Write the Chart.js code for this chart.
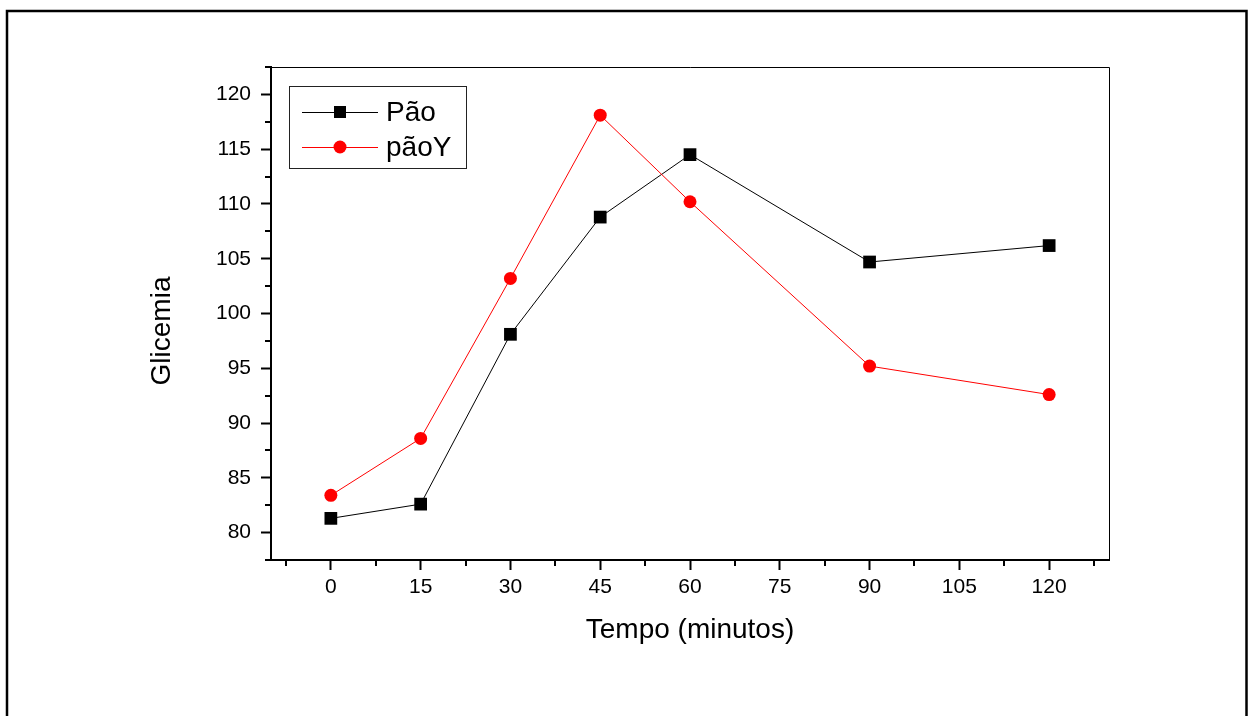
<!DOCTYPE html>
<html><head><meta charset="utf-8">
<script src="https://cdn.jsdelivr.net/npm/chart.js@4.4.1/dist/chart.umd.min.js"></script>
<style>html,body{margin:0;padding:0;background:#fff;overflow:hidden}</style>
</head><body>
<canvas id="c" width="1248" height="716"></canvas>
<script>
const tempo = [0, 15, 30, 45, 60, 90, 120];
const pao = [81.3, 82.6, 98.1, 108.8, 114.5, 104.7, 106.2];
const paoY = [83.4, 88.6, 103.2, 118.1, 110.2, 95.2, 92.6];
const seriesNames = ['Pão', 'pãoY'];
const xTickValues = [0, 15, 30, 45, 60, 75, 90, 105, 120];
const yTickValues = [80, 85, 90, 95, 100, 105, 110, 115, 120];
const xMinorTicks = [-7.5, 7.5, 22.5, 37.5, 52.5, 67.5, 82.5, 97.5, 112.5, 127.5];
const yMinorTicks = [77.5, 82.5, 87.5, 92.5, 97.5, 102.5, 107.5, 112.5, 117.5, 122.5];
const xTitle = 'Tempo (minutos)';
const yTitle = 'Glicemia';

const FONT = "'Liberation Sans', Arial, sans-serif";

const framePlugin = {
  id: 'frame',
  afterDraw(chart) {
    const ctx = chart.ctx;
    const a = chart.chartArea;
    const xs = chart.scales.x, ys = chart.scales.y;
    ctx.save();
    // top and right frame lines
    ctx.strokeStyle = '#000';
    ctx.lineWidth = 1;
    ctx.beginPath();
    ctx.moveTo(a.left, a.top + 0.5);
    ctx.lineTo(a.right + 0.5, a.top + 0.5);
    ctx.lineTo(a.right + 0.5, a.bottom);
    ctx.stroke();
    // minor ticks
    ctx.lineWidth = 2;
    ctx.beginPath();
    xMinorTicks.forEach(v => {
      const px = Math.round(xs.getPixelForValue(v));
      ctx.moveTo(px, a.bottom);
      ctx.lineTo(px, a.bottom + 6);
    });
    yMinorTicks.forEach(v => {
      const py = Math.round(ys.getPixelForValue(v));
      ctx.moveTo(a.left, py);
      ctx.lineTo(a.left - 6, py);
    });
    ctx.stroke();
    // y axis title
    ctx.save();
    ctx.translate(162, 331);
    ctx.rotate(-Math.PI / 2);
    ctx.fillStyle = '#000';
    ctx.font = '28px ' + FONT;
    ctx.textAlign = 'center';
    ctx.textBaseline = 'middle';
    ctx.fillText(yTitle, 0, 0);
    ctx.restore();
    // legend box
    const lx = 289, ly = 86, lw = 177, lh = 82;
    ctx.lineWidth = 1;
    ctx.strokeStyle = '#222';
    ctx.strokeRect(lx + 0.5, ly + 0.5, lw, lh);
    const rows = [112, 147];
    chart.data.datasets.forEach((ds, i) => {
      const y = rows[i];
      ctx.strokeStyle = ds.borderColor;
      ctx.lineWidth = 1;
      ctx.beginPath();
      ctx.moveTo(302, y + 0.5);
      ctx.lineTo(378, y + 0.5);
      ctx.stroke();
      ctx.fillStyle = ds.pointBackgroundColor;
      if (ds.pointStyle === 'rect') {
        ctx.fillRect(340 - 6, y - 6, 12, 12);
      } else {
        ctx.beginPath();
        ctx.arc(340, y, 6.5, 0, Math.PI * 2);
        ctx.fill();
      }
      ctx.fillStyle = '#000';
      ctx.font = '28px ' + FONT;
      ctx.textBaseline = 'middle';
      ctx.textAlign = 'left';
      ctx.fillText(ds.label, 386, y + 1);
    });
    // outer border
    ctx.strokeStyle = '#000';
    ctx.lineWidth = 2.5;
    ctx.strokeRect(7, 11, 1239.5, 800);
    ctx.restore();
  }
};

const toPts = (ys) => tempo.map((t, i) => ({x: t, y: ys[i]}));

new Chart(document.getElementById('c'), {
  type: 'line',
  data: {
    datasets: [
      {
        label: seriesNames[0], data: toPts(pao),
        borderColor: '#000', backgroundColor: '#000', borderWidth: 1,
        pointStyle: 'rect', pointRadius: 9, pointBorderWidth: 0,
        pointBackgroundColor: '#000', tension: 0, order: 2
      },
      {
        label: seriesNames[1], data: toPts(paoY),
        borderColor: '#ff0000', backgroundColor: '#ff0000', borderWidth: 1,
        pointStyle: 'circle', pointRadius: 6.5, pointBorderWidth: 0,
        pointBackgroundColor: '#ff0000', tension: 0, order: 1
      }
    ]
  },
  options: {
    responsive: false,
    animation: false,
    devicePixelRatio: 1,
    layout: { padding: { left: 0, top: 67, right: 139, bottom: 0 } },
    plugins: { legend: { display: false }, tooltip: { enabled: false } },
    scales: {
      x: {
        type: 'linear', min: -10, max: 130,
        afterBuildTicks: (s) => { s.ticks = xTickValues.map(v => ({value: v})); },
        afterFit: (s) => { s.height = 156; },
        grid: { drawOnChartArea: false, drawTicks: true, tickLength: 10, tickWidth: 2, tickColor: '#000' },
        border: { display: true, color: '#000', width: 2 },
        ticks: { color: '#000', font: { family: FONT, size: 21 }, padding: 5, maxRotation: 0, autoSkip: false },
        title: { display: true, text: xTitle, color: '#000', font: { family: FONT, size: 28 }, padding: { top: 0, bottom: 69 } }
      },
      y: {
        type: 'linear', min: 77.5, max: 122.5,
        afterBuildTicks: (s) => { s.ticks = yTickValues.map(v => ({value: v})); },
        afterFit: (s) => { s.width = 271; },
        grid: { drawOnChartArea: false, drawTicks: true, tickLength: 10, tickWidth: 2, tickColor: '#000' },
        border: { display: true, color: '#000', width: 2 },
        ticks: { color: '#000', font: { family: FONT, size: 21 }, padding: 10, autoSkip: false },
        title: { display: false }
      }
    }
  },
  plugins: [framePlugin]
});
</script>
</body></html>
